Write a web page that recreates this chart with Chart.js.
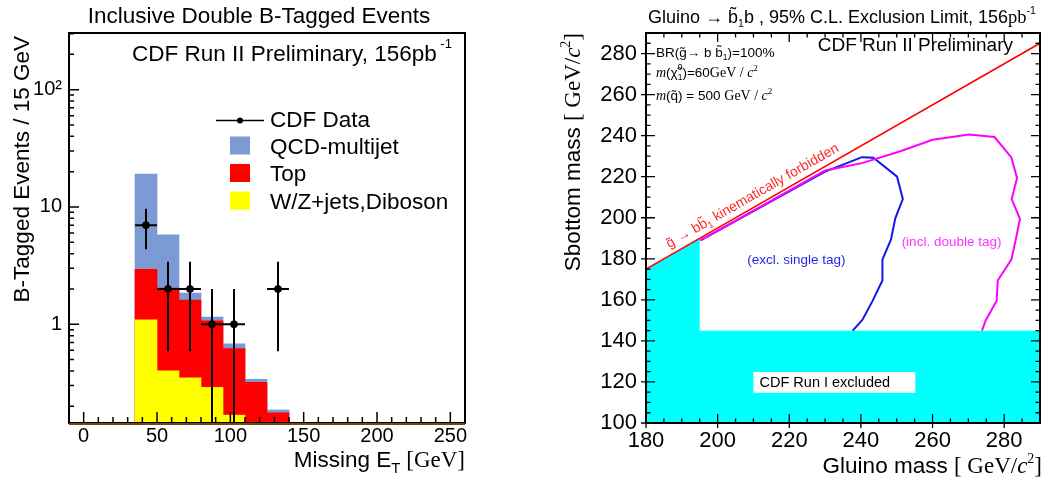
<!DOCTYPE html>
<html>
<head>
<meta charset="utf-8">
<script src="https://cdn.jsdelivr.net/npm/chart.js@4.4.1/dist/chart.umd.min.js"></script>
<style>
  html, body { margin: 0; padding: 0; background: #fff; }
  #wrap { position: relative; width: 1047px; height: 483px; }
  canvas { position: absolute; top: 0; }
  #left { left: 0; }
  #right { left: 540px; }
</style>
</head>
<body>
<div id="wrap">
  <canvas id="left" width="480" height="483"></canvas>
  <canvas id="right" width="507" height="483"></canvas>
</div>
<script>
// ---------- left panel: missing ET, inclusive double b-tag ----------
const binCenters = [42.5, 57.5, 72.5, 87.5, 102.5, 117.5, 132.5];
const qcdStack = [19.1, 5.8, 1.84, 1.15, 0.68, 0.34, 0.186];   // QCD + top + W/Z
const topStack = [2.94, 2.03, 1.61, 1.07, 0.62, 0.32, 0.176];  // top + W/Z
const wzStack  = [1.09, 0.40, 0.35, 0.29, 0.168, null, null];   // W/Z+jets, diboson
const dataX   = [42.5, 57.5, 72.5, 87.5, 102.5, 132.5];
const dataY   = [7, 2, 2, 1, 1, 2];
const dataErr = [2.65, 1.41, 1.41, 1, 1, 1.41];
const binHalf = 7.5;
const metTicks = [0, 50, 100, 150, 200, 250];
const evtTicks = [1, 10, 100];
const evtTickLabels = ['1', '10', '10²'];

// ---------- right panel: gluino / sbottom exclusion ----------
const gluinoTicks = [180, 200, 220, 240, 260, 280];
const sbottomTicks = [100, 120, 140, 160, 180, 200, 220, 240, 260, 280];
const kinX = [180, 290];
const kinY = [175, 285];
const runIX = [180, 195, 195, 290];
const runIY = [175, 190, 145, 145];
const singleX = [195.2, 230, 240.3, 243.5, 250.1, 251.7, 249.6, 248.4, 246, 246, 243.3, 240.4, 237.7];
const singleY = [189, 222.5, 229.5, 229.2, 220, 209.1, 199.7, 189.4, 179.6, 169.4, 159.6, 150.2, 145];
const doubleX = [195.2, 230, 240.3, 250.8, 260, 270.2, 277.3, 282, 283.6, 282.1, 284.4, 283.2, 282, 278.2, 277.9, 274.8, 273.8];
const doubleY = [189, 223, 226.6, 232.3, 238, 240.5, 239.3, 229.4, 219.3, 209.1, 199.5, 189, 179.6, 169.4, 159.6, 149.8, 145];

const SANS = '"Liberation Sans", Arial, sans-serif';
const SERIF = '"Liberation Serif", "Times New Roman", serif';
const f = (size, fam = SANS, style = '') => `${style} ${size}px ${fam}`;

Chart.defaults.font.family = SANS;
Chart.defaults.color = '#000';

function drawRuns(ctx, parts, x, y, align) {
  let w = 0;
  for (const p of parts) { ctx.font = p.f; if (!p.stack) w += ctx.measureText(p.t).width; }
  let cx = align === 'right' ? x - w : align === 'center' ? x - w / 2 : x;
  for (const p of parts) {
    ctx.font = p.f;
    ctx.fillText(p.t, cx, y + (p.dy || 0));
    if (!p.stack) cx += ctx.measureText(p.t).width;
  }
}

function line(ctx, x1, y1, x2, y2) { ctx.moveTo(x1, y1); ctx.lineTo(x2, y2); }

function fixedAxis(extra) {
  return Object.assign({
    offset: false,
    grid: { display: false, drawTicks: false },
    border: { display: false },
  }, extra);
}

const pts = (xs, ys) => xs.map((v, i) => ({ x: v, y: ys[i] })).filter(p => p.y !== null);

const barOpts = { type: 'bar', grouped: false, barPercentage: 1, categoryPercentage: 1, borderWidth: 0 };

const leftDecor = {
  id: 'leftDecor',
  afterDatasetsDraw(chart) {
    const { ctx, chartArea: a, scales: { x, y } } = chart;
    ctx.save();
    ctx.beginPath(); ctx.rect(a.left, a.top, a.width, a.height); ctx.clip();
    ctx.strokeStyle = '#000'; ctx.lineWidth = 2;
    ctx.beginPath();
    dataX.forEach((v, i) => {
      const px = x.getPixelForValue(v), py = y.getPixelForValue(dataY[i]);
      const lo = dataY[i] - dataErr[i];
      line(ctx, x.getPixelForValue(v - binHalf), py, x.getPixelForValue(v + binHalf), py);
      line(ctx, px, y.getPixelForValue(dataY[i] + dataErr[i]), px, lo > y.min ? y.getPixelForValue(lo) : a.bottom);
    });
    ctx.stroke();
    ctx.restore();
  },
  afterDraw(chart) {
    const { ctx, chartArea: a, scales: { x, y } } = chart;
    ctx.save();
    ctx.strokeStyle = '#000'; ctx.lineWidth = 1.5;
    ctx.beginPath();
    for (let v = 0; v <= 260; v += 10) {
      const px = x.getPixelForValue(v);
      line(ctx, px, a.bottom, px, a.bottom - (v % 50 === 0 ? 11 : 6));
    }
    for (const d of [0.1, 1, 10, 100]) {
      for (let k = 1; k <= 9; k++) {
        const v = k * d;
        if (v < y.min || v > y.max) continue;
        const py = y.getPixelForValue(v);
        line(ctx, a.left, py, a.left + (k === 1 ? 10 : 5), py);
      }
    }
    ctx.stroke();
    ctx.lineWidth = 2;
    ctx.strokeRect(a.left, a.top, a.width, a.height);
    ctx.strokeStyle = 'rgb(120,70,20)';
    ctx.beginPath(); line(ctx, a.left, a.bottom + 1, a.right, a.bottom + 1); ctx.stroke();

    ctx.fillStyle = '#000';
    ctx.textBaseline = 'alphabetic';
    ctx.textAlign = 'left';
    drawRuns(ctx, [{ t: 'Inclusive Double B-Tagged Events', f: f(22.5) }], 259, 23, 'center');
    drawRuns(ctx, [{ t: 'CDF Run II Preliminary, 156pb', f: f(22.5) }, { t: ' -1', f: f(13), dy: -13 }], 132, 61, 'left');
    drawRuns(ctx, [
      { t: 'Missing E', f: f(22.5) }, { t: 'T', f: f(15), dy: 6 },
      { t: ' [GeV]', f: f(23, SERIF) }], a.right, 467, 'right');
    ctx.save();
    ctx.translate(29, 36); ctx.rotate(-Math.PI / 2);
    drawRuns(ctx, [{ t: 'B-Tagged Events / 15 GeV', f: f(22.5) }], 0, 0, 'right');
    ctx.restore();

    // legend
    const ds = chart.data.datasets;
    ctx.lineWidth = 1.5; ctx.strokeStyle = '#000';
    ctx.beginPath(); line(ctx, 216, 120.5, 264, 120.5); ctx.stroke();
    ctx.beginPath(); ctx.arc(240, 120.5, 3, 0, Math.PI * 2); ctx.fill();
    const entries = [
      [ds[0].label, null, 126.5],
      [ds[3].label, ds[3].backgroundColor, 153.5],
      [ds[2].label, ds[2].backgroundColor, 181],
      [ds[1].label, ds[1].backgroundColor, 208.5],
    ];
    for (const [label, color, base] of entries) {
      if (color) { ctx.fillStyle = color; ctx.fillRect(230, base - 17, 20, 18); }
      ctx.fillStyle = '#000';
      drawRuns(ctx, [{ t: label, f: f(22.5) }], 270, base, 'left');
    }
    ctx.restore();
  }
};

new Chart(document.getElementById('left'), {
  type: 'bar',
  data: {
    datasets: [
      { type: 'scatter', label: 'CDF Data', data: pts(dataX, dataY), backgroundColor: '#000', borderColor: '#000', pointRadius: 3.5, order: 0 },
      Object.assign({ label: 'W/Z+jets,Diboson', data: pts(binCenters, wzStack), backgroundColor: 'rgb(255,255,0)', order: 1 }, barOpts),
      Object.assign({ label: 'Top', data: pts(binCenters, topStack), backgroundColor: 'rgb(255,0,0)', order: 2 }, barOpts),
      Object.assign({ label: 'QCD-multijet', data: pts(binCenters, qcdStack), backgroundColor: 'rgb(124,155,212)', order: 3 }, barOpts),
    ]
  },
  options: {
    responsive: false,
    animation: false,
    events: [],
    layout: { padding: { left: 0, top: 33, right: 15, bottom: 0 } },
    plugins: { legend: { display: false }, tooltip: { enabled: false }, title: { display: false } },
    scales: {
      x: fixedAxis({
        type: 'linear', min: -10, max: 260,
        afterBuildTicks: s => { s.ticks = metTicks.map(v => ({ value: v })); },
        afterFit: s => { s.height = 60; },
        ticks: { color: '#000', font: { size: 20 }, padding: 1, maxRotation: 0, autoSkip: false }
      }),
      y: fixedAxis({
        type: 'logarithmic', min: 0.144, max: 304,
        afterBuildTicks: s => { s.ticks = evtTicks.map(v => ({ value: v })); },
        afterFit: s => { s.width = 69; },
        ticks: { color: '#000', font: { size: 20 }, padding: 7, callback: v => evtTickLabels[evtTicks.indexOf(v)] }
      })
    }
  },
  plugins: [leftDecor]
});

const rightDecor = {
  id: 'rightDecor',
  afterDatasetsDraw(chart) {
    const { ctx, scales: { x, y } } = chart;
    ctx.save();
    ctx.textBaseline = 'alphabetic';
    ctx.textAlign = 'left';
    // white label box in the excluded region
    const bx1 = x.getPixelForValue(210), bx2 = x.getPixelForValue(255.2);
    const by1 = y.getPixelForValue(124.8), by2 = y.getPixelForValue(114.7);
    ctx.fillStyle = '#fff';
    ctx.fillRect(bx1, by1, bx2 - bx1, by2 - by1);
    ctx.fillStyle = '#000';
    drawRuns(ctx, [{ t: 'CDF Run I excluded', f: f(14.5) }], x.getPixelForValue(211.7), y.getPixelForValue(117.5), 'left');

    ctx.fillStyle = 'rgb(40,40,235)';
    drawRuns(ctx, [{ t: '(excl. single tag)', f: f(13.5) }], x.getPixelForValue(222), y.getPixelForValue(177.4), 'center');
    ctx.fillStyle = 'rgb(255,50,255)';
    drawRuns(ctx, [{ t: '(incl. double tag)', f: f(13.5) }], x.getPixelForValue(265.3), y.getPixelForValue(186.4), 'center');

    // label along the kinematic limit
    const p1x = x.getPixelForValue(kinX[0]), p1y = y.getPixelForValue(kinY[0]);
    const p2x = x.getPixelForValue(kinX[1]), p2y = y.getPixelForValue(kinY[1]);
    ctx.translate(x.getPixelForValue(187.4), y.getPixelForValue(182.4));
    ctx.rotate(Math.atan2(p2y - p1y, p2x - p1x));
    ctx.fillStyle = 'rgb(255,40,40)';
    drawRuns(ctx, [
      { t: 'g\u0303 \u2192 bb\u0303', f: f(14) }, { t: '1', f: f(9), dy: 3 },
      { t: ' kinematically forbidden', f: f(14) }], 0, -6.5, 'left');
    ctx.restore();
  },
  afterDraw(chart) {
    const { ctx, chartArea: a, scales: { x, y } } = chart;
    ctx.save();
    ctx.strokeStyle = '#000'; ctx.lineWidth = 1.3;
    ctx.beginPath();
    for (let v = 180; v <= 290; v += 5) {
      const px = x.getPixelForValue(v);
      const major = v % 20 === 0;
      const len = major ? 9 : 4.5;
      line(ctx, px, a.bottom + (major ? 5 : 0), px, a.bottom - len);
      line(ctx, px, a.top, px, a.top + len);
    }
    for (let v = 100; v <= 290; v += 5) {
      const py = y.getPixelForValue(v);
      const major = v % 20 === 0;
      const len = major ? 9 : 4.5;
      line(ctx, a.left - (major ? 5 : 0), py, a.left + len, py);
      line(ctx, a.right, py, a.right - len, py);
    }
    ctx.stroke();
    ctx.lineWidth = 2;
    ctx.strokeRect(a.left, a.top, a.width, a.height);

    ctx.fillStyle = '#000';
    ctx.textBaseline = 'alphabetic';
    ctx.textAlign = 'left';
    drawRuns(ctx, [
      { t: 'Gluino \u2192 b\u0303', f: f(18) }, { t: '1', f: f(10.5), dy: 4 },
      { t: 'b , 95% C.L. Exclusion Limit, 156', f: f(18) },
      { t: 'pb', f: f(18.5, SERIF) }, { t: '-1', f: f(10.5), dy: -9 }], 302, 22.5, 'center');
    drawRuns(ctx, [{ t: 'CDF Run II Preliminary', f: f(19) }], 473, 50.5, 'right');

    drawRuns(ctx, [
      { t: 'BR(g\u0303\u2192 b b\u0303', f: f(13.5) }, { t: '1', f: f(8.5), dy: 3 },
      { t: ')=100%', f: f(13.5) }], 116, 57, 'left');
    drawRuns(ctx, [
      { t: 'm', f: f(14, SERIF, 'italic') }, { t: '(\u03c7\u0303', f: f(13.5) },
      { t: '1', f: f(8.5), dy: 3, stack: true }, { t: '0', f: f(8.5), dy: -7 },
      { t: ')=60', f: f(13.5) }, { t: 'GeV / ', f: f(14, SERIF) },
      { t: 'c', f: f(14, SERIF, 'italic') }, { t: '2', f: f(9, SERIF), dy: -6 }], 116, 77, 'left');
    drawRuns(ctx, [
      { t: 'm', f: f(14, SERIF, 'italic') }, { t: '(q\u0303) = 500 ', f: f(13.5) },
      { t: 'GeV / ', f: f(14, SERIF) },
      { t: 'c', f: f(14, SERIF, 'italic') }, { t: '2', f: f(9, SERIF), dy: -6 }], 116, 100, 'left');

    drawRuns(ctx, [
      { t: 'Gluino mass ', f: f(22.5) }, { t: '[ GeV/', f: f(23, SERIF) },
      { t: 'c', f: f(23, SERIF, 'italic') }, { t: '2', f: f(14, SERIF), dy: -10 },
      { t: ']', f: f(23, SERIF) }], 502, 473, 'right');
    ctx.save();
    ctx.translate(40, 33); ctx.rotate(-Math.PI / 2);
    drawRuns(ctx, [
      { t: 'Sbottom mass ', f: f(22.5) }, { t: '[ GeV/', f: f(23, SERIF) },
      { t: 'c', f: f(23, SERIF, 'italic') }, { t: '2', f: f(14, SERIF), dy: -10 },
      { t: ']', f: f(23, SERIF) }], 0, 0, 'right');
    ctx.restore();
    ctx.restore();
  }
};

const lineDs = (xs, ys, color, width, order) => ({
  data: pts(xs, ys), showLine: true, borderColor: color, borderWidth: width,
  pointRadius: 0, fill: false, order, tension: 0
});

new Chart(document.getElementById('right'), {
  type: 'scatter',
  data: {
    datasets: [
      lineDs(doubleX, doubleY, 'rgb(255,0,255)', 2, 0),
      lineDs(singleX, singleY, 'rgb(20,20,240)', 2, 1),
      lineDs(kinX, kinY, 'rgb(255,0,0)', 1.6, 2),
      { data: pts(runIX, runIY), showLine: true, borderWidth: 0, borderColor: 'rgba(0,0,0,0)',
        backgroundColor: 'rgb(0,255,255)', fill: 'start', pointRadius: 0, order: 3 }
    ]
  },
  options: {
    responsive: false,
    animation: false,
    events: [],
    layout: { padding: { left: 0, top: 33, right: 7, bottom: 0 } },
    plugins: { legend: { display: false }, tooltip: { enabled: false }, title: { display: false } },
    scales: {
      x: fixedAxis({
        type: 'linear', min: 180, max: 290,
        afterBuildTicks: s => { s.ticks = gluinoTicks.map(v => ({ value: v })); },
        afterFit: s => { s.height = 60; },
        ticks: { color: '#000', font: { size: 22 }, padding: 5, maxRotation: 0, autoSkip: false }
      }),
      y: fixedAxis({
        type: 'linear', min: 100, max: 290,
        afterBuildTicks: s => { s.ticks = sbottomTicks.map(v => ({ value: v })); },
        afterFit: s => { s.width = 106; },
        ticks: { color: '#000', font: { size: 22 }, padding: 9, autoSkip: false }
      })
    }
  },
  plugins: [rightDecor]
});
</script>
</body>
</html>
